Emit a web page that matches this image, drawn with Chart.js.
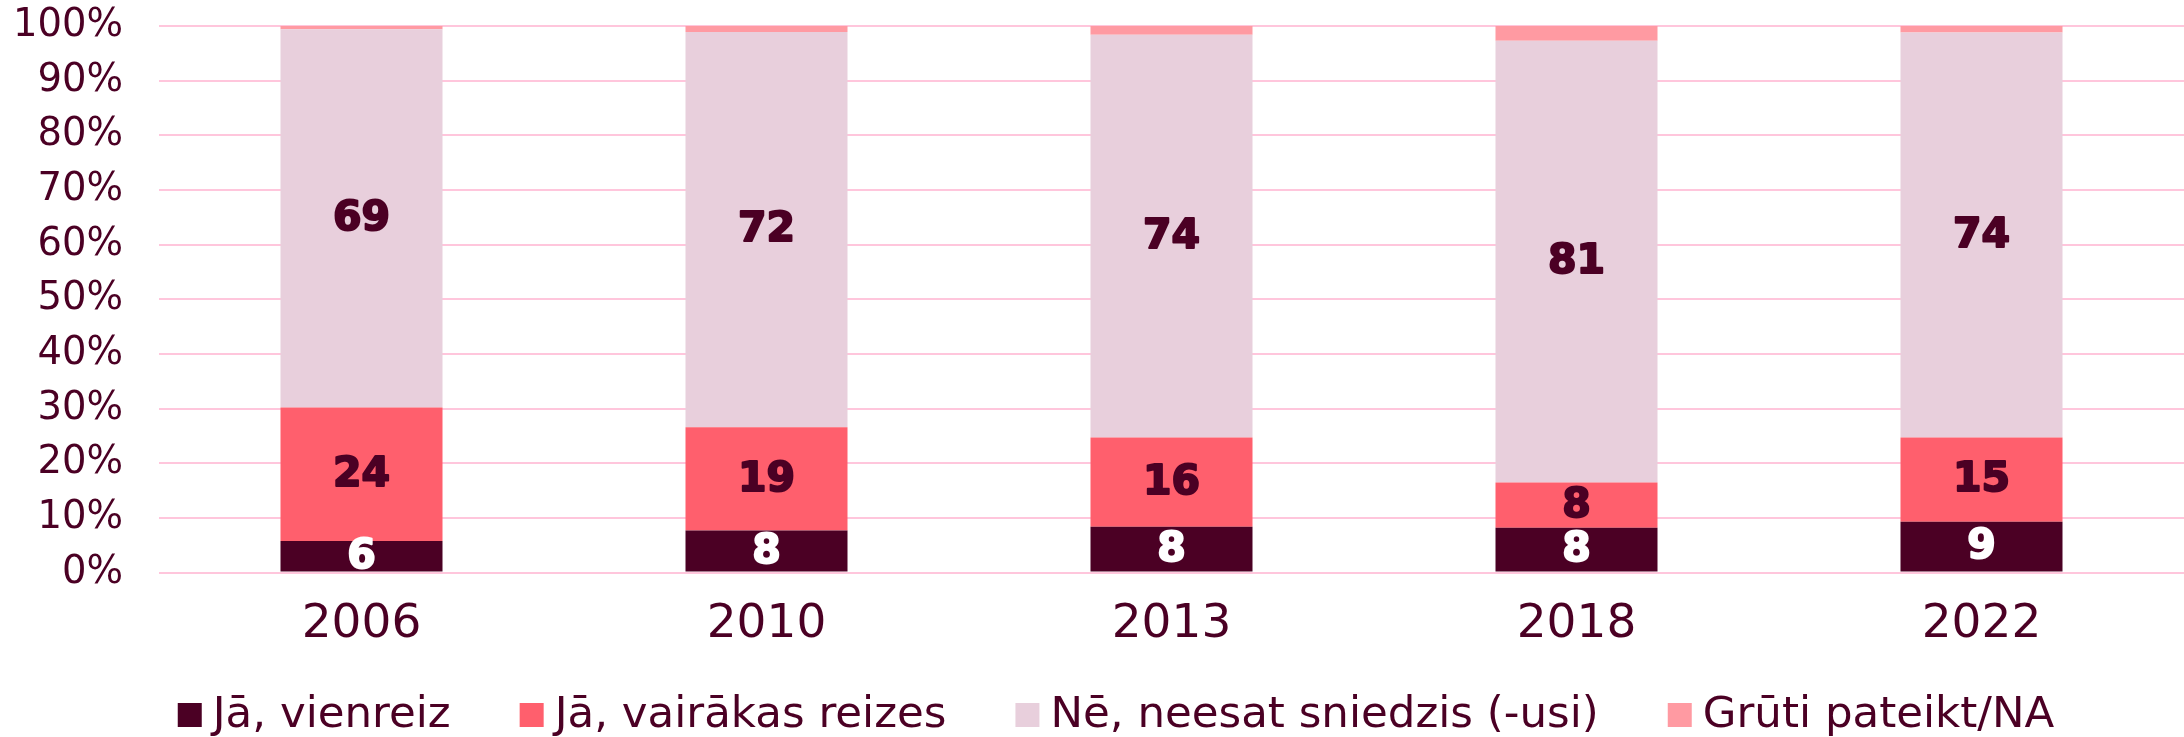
<!DOCTYPE html>
<html>
<head>
<meta charset="utf-8">
<script src="https://cdn.jsdelivr.net/npm/chart.js@4.4.1/dist/chart.umd.min.js"></script>
<style>
 html,body {margin:0; padding:0; background:#fff;}
 #wrap {position:relative; width:2184px; height:737px;}
</style>
</head>
<body>
<div id="wrap"><canvas id="chartID"></canvas></div>
<script>
// survey years and answer shares (%)
var years=['2006','2010','2013','2018','2022'];
var seriesNames=['Jā, vienreiz','Jā, vairākas reizes','Nē, neesat sniedzis (-usi)','Grūti pateikt/NA'];
var yesOnce=[5.8,7.7,8.4,8.2,9.3];
var yesSeveral=[24.4,18.9,16.3,8.3,15.4];
var noNever=[69.2,72.3,73.7,80.8,74.1];
var hardToSay=[0.6,1.1,1.6,2.7,1.2];
var yTicks=[0,10,20,30,40,50,60,70,80,90,100];

var txtColor='#4b0024';
var barColors=['#4b0024','#ff5f6d','#e8cfdc','#ff9aa2'];
var labelColors=['#ffffff',txtColor,txtColor,null];

// write rounded values in the middle of each segment
var segLabels={
 id:'segLabels',
 afterDatasetsDraw(chart) {
  var ctx=chart.ctx;
  ctx.save();
  ctx.font='bold 41px "DejaVu Sans"';
  ctx.textAlign='center';
  ctx.textBaseline='middle';
  ctx.lineWidth=2;
  ctx.lineJoin='round';
  chart.data.datasets.forEach(function(ds,di) {
   if (!labelColors[di]) return;
   var meta=chart.getDatasetMeta(di);
   ctx.fillStyle=labelColors[di];
   ctx.strokeStyle=labelColors[di];
   meta.data.forEach(function(bar,i) {
    var yc=(bar.y+bar.base)/2;
    var t=String(Math.round(ds.data[i]));
    ctx.strokeText(t,bar.x,yc+1);
    ctx.fillText(t,bar.x,yc+1);
   });
  });
  ctx.restore();
 }
};

// legend row under the chart (space kept by layout padding)
var bottomLegend={
 id:'bottomLegend',
 afterDraw(chart) {
  var ctx=chart.ctx;
  var box=24, gapText=11, gapItem=69, yc=chart.height-22;
  ctx.save();
  ctx.font='43.5px "DejaVu Sans"';
  ctx.textBaseline='middle';
  ctx.textAlign='left';
  var total=0;
  seriesNames.forEach(function(t,i){total+=box+gapText+ctx.measureText(t).width+(i?gapItem:0);});
  var x=chart.width/2+24-total/2;
  chart.data.datasets.forEach(function(ds,i) {
   ctx.fillStyle=ds.backgroundColor;
   ctx.fillRect(x,yc-box/2,box,box);
   x+=box+gapText;
   ctx.fillStyle=txtColor;
   ctx.fillText(ds.label,x,yc+1);
   x+=ctx.measureText(ds.label).width+gapItem;
  });
  ctx.restore();
 }
};

var ctx=document.getElementById('chartID').getContext('2d');
var allData=[yesOnce,yesSeveral,noNever,hardToSay];
var datasets=[];
for (var i=0; i<allData.length; i++) {
 datasets.push({label:seriesNames[i], data:allData[i], backgroundColor:barColors[i], borderWidth:0,
  barPercentage:0.4, categoryPercentage:1.0});
}

new Chart(ctx,{type:'bar',
 data:{labels:years, datasets:datasets},
 options:{responsive:true, maintainAspectRatio:false, animation:false,
  layout:{padding:{left:14, right:0, top:0, bottom:60}},
  plugins:{legend:{display:false}, title:{display:false}, tooltip:{enabled:false}},
  scales:{
   x:{stacked:true, grid:{display:false, drawTicks:false}, border:{display:false},
    ticks:{color:txtColor, font:{family:'DejaVu Sans', size:47}, padding:24}},
   y:{stacked:true, min:0, max:100,
    afterBuildTicks:function(axis){axis.ticks=yTicks.map(function(v){return {value:v};});},
    afterFit:function(axis){axis.width=145; axis.paddingTop=26; axis.paddingBottom=10;},
    grid:{color:'#ffc6dc', lineWidth:2, drawTicks:false}, border:{display:false},
    ticks:{color:txtColor, font:{family:'DejaVu Sans', size:38.5}, padding:36, autoSkip:false,
     callback:function(v){return v+'%';}}}
  }
 },
 plugins:[segLabels,bottomLegend]
});
</script>
</body>
</html>
